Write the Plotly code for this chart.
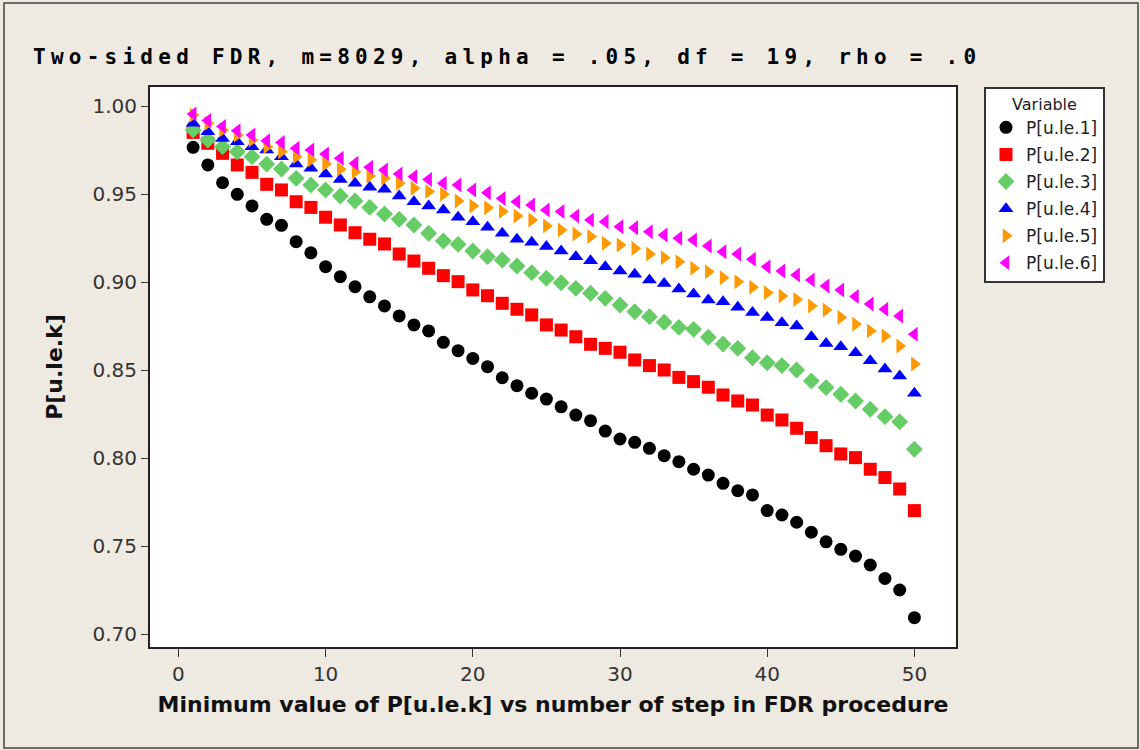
import plotly.graph_objects as go

steps = list(range(1, 51))

p_le_1 = [0.9765,0.9665,0.9564,0.9498,0.9432,0.9356,0.9322,0.9229,0.9166,0.9087,
          0.9030,0.8973,0.8916,0.8864,0.8807,0.8756,0.8722,0.8657,0.8610,0.8566,
          0.8519,0.8456,0.8411,0.8368,0.8335,0.8291,0.8244,0.8212,0.8153,0.8108,
          0.8089,0.8055,0.8013,0.7979,0.7936,0.7903,0.7856,0.7814,0.7790,0.7701,
          0.7676,0.7635,0.7578,0.7524,0.7481,0.7443,0.7392,0.7316,0.7250,0.7093]

p_le_2 = [0.9850,0.9788,0.9731,0.9665,0.9623,0.9555,0.9523,0.9456,0.9424,0.9368,
          0.9324,0.9280,0.9243,0.9216,0.9159,0.9119,0.9078,0.9036,0.9002,0.8955,
          0.8922,0.8879,0.8845,0.8813,0.8756,0.8727,0.8689,0.8646,0.8623,0.8601,
          0.8557,0.8525,0.8500,0.8458,0.8434,0.8402,0.8358,0.8324,0.8301,0.8244,
          0.8216,0.8169,0.8116,0.8070,0.8023,0.8002,0.7936,0.7889,0.7824,0.7701]

p_le_3 = [0.9864,0.9807,0.9769,0.9740,0.9712,0.9670,0.9642,0.9589,0.9551,0.9523,
          0.9489,0.9460,0.9424,0.9386,0.9356,0.9324,0.9277,0.9233,0.9214,0.9176,
          0.9144,0.9125,0.9091,0.9053,0.9021,0.8996,0.8964,0.8936,0.8907,0.8869,
          0.8831,0.8803,0.8771,0.8742,0.8731,0.8686,0.8648,0.8623,0.8570,0.8541,
          0.8525,0.8500,0.8438,0.8400,0.8362,0.8324,0.8277,0.8235,0.8206,0.8050]

p_le_4 = [0.9902,0.9854,0.9816,0.9797,0.9769,0.9750,0.9712,0.9670,0.9646,0.9614,
          0.9583,0.9561,0.9538,0.9527,0.9489,0.9456,0.9432,0.9409,0.9368,0.9343,
          0.9311,0.9277,0.9243,0.9226,0.9201,0.9176,0.9144,0.9121,0.9087,0.9063,
          0.9044,0.9011,0.8992,0.8960,0.8932,0.8898,0.8888,0.8856,0.8826,0.8799,
          0.8769,0.8750,0.8689,0.8651,0.8632,0.8598,0.8553,0.8506,0.8466,0.8368]

p_le_5 = [0.9949,0.9902,0.9864,0.9835,0.9807,0.9769,0.9740,0.9712,0.9693,0.9670,
          0.9640,0.9627,0.9602,0.9589,0.9561,0.9532,0.9514,0.9498,0.9460,0.9432,
          0.9422,0.9400,0.9375,0.9352,0.9318,0.9295,0.9273,0.9258,0.9220,0.9210,
          0.9191,0.9159,0.9138,0.9115,0.9078,0.9058,0.9024,0.9002,0.8970,0.8939,
          0.8920,0.8901,0.8864,0.8841,0.8799,0.8760,0.8722,0.8693,0.8636,0.8534]

p_le_6 = [0.9955,0.9917,0.9883,0.9860,0.9835,0.9803,0.9792,0.9760,0.9750,0.9727,
          0.9703,0.9674,0.9652,0.9636,0.9614,0.9598,0.9583,0.9561,0.9551,0.9523,
          0.9507,0.9475,0.9456,0.9438,0.9409,0.9400,0.9375,0.9352,0.9343,0.9314,
          0.9308,0.9286,0.9267,0.9248,0.9239,0.9205,0.9172,0.9159,0.9129,0.9087,
          0.9063,0.9040,0.9011,0.8977,0.8955,0.8917,0.8875,0.8845,0.8807,0.8703]

series_names = ["P[u.le.1]", "P[u.le.2]", "P[u.le.3]", "P[u.le.4]", "P[u.le.5]", "P[u.le.6]"]
series_values = [p_le_1, p_le_2, p_le_3, p_le_4, p_le_5, p_le_6]
colors = ["#000000", "#FF0000", "#66CC66", "#0000FF", "#FF9900", "#FF00FF"]
symbols = ["circle", "square", "diamond", "triangle-up", "triangle-right", "triangle-left"]
sizes = [13, 13, 13, 13, 13, 13]

x_ticks = [0, 10, 20, 30, 40, 50]
y_ticks = [0.70, 0.75, 0.80, 0.85, 0.90, 0.95, 1.00]
y_tick_labels = ["0.70", "0.75", "0.80", "0.85", "0.90", "0.95", "1.00"]

title_text = "Two-sided FDR, m=8029, alpha = .05, df = 19, rho = .0"
x_title = "Minimum value of P[u.le.k] vs number of step in FDR procedure"
y_title = "P[u.le.k]"

fig = go.Figure()
for name, vals, c, s, sz in zip(series_names, series_values, colors, symbols, sizes):
    fig.add_trace(go.Scatter(
        x=steps, y=vals, mode="markers", name=name, legendgroup=name,
        marker=dict(color=c, symbol=s, size=sz, line=dict(width=0)),
    ))

BG = "#EEEAE1"
L, R, T, B = 150, 184, 87, 103
W, H = 1140, 750
pw, ph = W - L - R, H - T - B


def px_x(px):
    return (px - L) / pw


def px_y(py):
    return (H - B - py) / ph


fig.update_layout(
    width=W, height=H,
    margin=dict(l=L, r=R, t=T, b=B, pad=0),
    paper_bgcolor=BG, plot_bgcolor="white",
    font=dict(family="DejaVu Sans", color="#222222"),
    title=dict(
        text='<span style="letter-spacing:5.25px">' + title_text + '</span>',
        font=dict(family="DejaVu Sans Mono", size=21, color="#000000", weight="bold"),
        xref="container", x=33 / W, xanchor="left",
        yref="container", y=1 - 57 / H, yanchor="middle",
    ),
    showlegend=True,
    legend=dict(
        x=px_x(984), xanchor="left", y=1.0, yanchor="top",
        bgcolor="white", bordercolor="#333333", borderwidth=2,
        font=dict(family="DejaVu Sans", size=17, color="#222222"),
        title=dict(text="Variable", side="top center",
                   font=dict(family="DejaVu Sans", size=16, color="#222222")),
        itemsizing="trace", tracegroupgap=2,
        entrywidth=118, entrywidthmode="pixels",
    ),
    xaxis=dict(
        range=[(L - 178.4) / 14.72, (L + pw - 178.4) / 14.72],
        tickmode="array", tickvals=x_ticks, ticktext=[str(v) for v in x_ticks],
        ticks="outside", ticklen=8, tickwidth=1.2, tickcolor="#333333",
        tickfont=dict(family="DejaVu Sans", size=20, color="#333333"),
        showgrid=False, zeroline=False,
        showline=True, linecolor="#222222", linewidth=2, mirror=True,
        title=dict(text="<b>" + x_title + "</b>", standoff=12,
                   font=dict(family="DejaVu Sans", size=22, color="#111111")),
    ),
    yaxis=dict(
        range=[1 - (H - B - 106) / 1760, 1 + (106 - T) / 1760],
        tickmode="array", tickvals=y_ticks, ticktext=y_tick_labels,
        ticks="outside", ticklen=7, tickwidth=1.2, tickcolor="#333333",
        tickfont=dict(family="DejaVu Sans", size=20, color="#333333"),
        showgrid=False, zeroline=False,
        showline=True, linecolor="#222222", linewidth=2, mirror=True,
        title=dict(text="<b>" + y_title + "</b>", standoff=24,
                   font=dict(family="DejaVu Sans", size=22, color="#111111")),
    ),
)

# outer frame of the picture
fig.add_shape(type="rect", xref="paper", yref="paper",
              x0=px_x(4), x1=px_x(1138), y0=px_y(748), y1=px_y(3),
              line=dict(color="#444444", width=1.5), fillcolor="rgba(0,0,0,0)",
              layer="below")

fig.write_html("out.html", config={"displayModeBar": False},
               post_script="document.body.style.margin='0px';")
